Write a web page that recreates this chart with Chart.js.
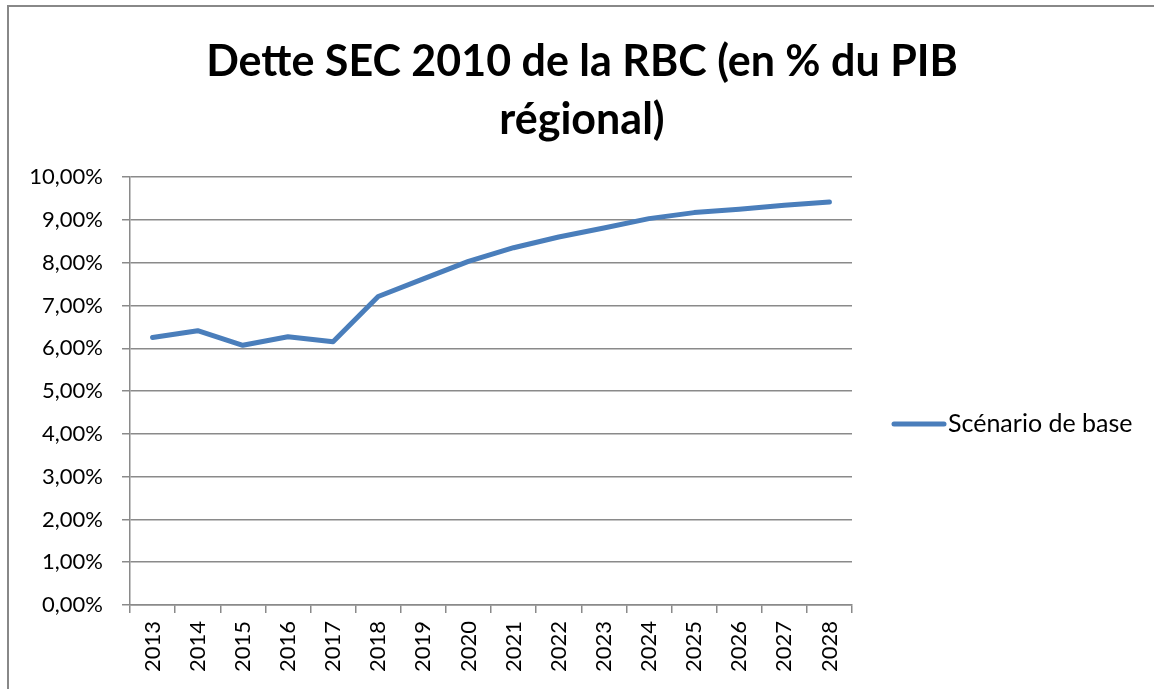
<!DOCTYPE html>
<html>
<head>
<meta charset="utf-8">
<script src="https://cdn.jsdelivr.net/npm/chart.js@4/dist/chart.umd.min.js"></script>
<style>
  html, body { margin: 0; padding: 0; background: #fff; overflow: hidden; }
  #wrap { position: relative; width: 1154px; height: 689px; overflow: hidden; }
  #frame { position: absolute; left: 7px; top: 5px; width: 1200px; height: 800px; border: 2px solid #888; box-sizing: border-box; }
  canvas { position: absolute; left: 0; top: 0; }
</style>
</head>
<body>
<div id="wrap">
  <div id="frame"></div>
  <canvas id="c" width="1154" height="689"></canvas>
</div>
<script>
const titleLines = ["Dette SEC 2010 de la RBC (en % du PIB", "régional)"];
const years = ["2013","2014","2015","2016","2017","2018","2019","2020","2021","2022","2023","2024","2025","2026","2027","2028"];
const seriesName = "Scénario de base";
const debtPct = [6.25, 6.41, 6.07, 6.27, 6.15, 7.21, 7.62, 8.03, 8.35, 8.60, 8.81, 9.03, 9.17, 9.25, 9.34, 9.42];
const yMin = 0, yMax = 10, yStep = 1;

const lineColor = '#4a7ebb';
const gridColor = '#8a8a8a';
const fontFamily = 'Lato, "Liberation Sans", sans-serif';

const sideLegend = {
  id: 'sideLegend',
  afterDraw(chart) {
    const ctx = chart.ctx;
    const ds = chart.data.datasets[0];
    const y = 424;
    ctx.save();
    ctx.strokeStyle = ds.borderColor;
    ctx.lineWidth = 5;
    ctx.lineCap = 'round';
    ctx.beginPath();
    ctx.moveTo(894, y);
    ctx.lineTo(944, y);
    ctx.stroke();
    ctx.fillStyle = '#000';
    ctx.font = '25px ' + fontFamily;
    ctx.textBaseline = 'middle';
    ctx.textAlign = 'left';
    ctx.fillText(ds.label, 948, y);
    ctx.restore();
  }
};

new Chart(document.getElementById('c'), {
  type: 'line',
  data: {
    labels: years,
    datasets: [{
      label: seriesName,
      data: debtPct,
      yAxisID: 'y',
      borderColor: lineColor,
      backgroundColor: lineColor,
      borderWidth: 5,
      pointRadius: 0,
      tension: 0,
      borderCapStyle: 'round',
      borderJoinStyle: 'round'
    }]
  },
  options: {
    responsive: false,
    animation: false,
    layout: { padding: { top: 0, left: 10, right: 0, bottom: 0 } },
    plugins: {
      legend: { display: false },
      tooltip: { enabled: false },
      title: {
        display: true,
        text: titleLines,
        color: '#000',
        font: { family: fontFamily, size: 43, weight: 'bold', lineHeight: 1.35 },
        padding: { top: 33.5, bottom: 27.5 }
      }
    },
    scales: {
      x: {
        type: 'category',
        offset: true,
        grid: { display: true, drawOnChartArea: false, drawTicks: true, tickLength: 8, offset: true, color: gridColor, lineWidth: 1.5 },
        border: { display: true, color: gridColor, width: 1.5 },
        ticks: {
          color: '#000',
          font: { family: fontFamily, size: 22 },
          maxRotation: 90, minRotation: 90,
          autoSkip: false,
          padding: 8
        },
        afterFit(scale) { scale.height = 84; }
      },
      y: {
        min: yMin, max: yMax,
        grid: { color: gridColor, lineWidth: 1.5, tickLength: 8, drawTicks: true },
        border: { display: true, color: gridColor, width: 1.5 },
        ticks: {
          stepSize: yStep,
          color: '#000',
          font: { family: fontFamily, size: 22 },
          padding: 19,
          callback: (v) => v.toFixed(2).replace('.', ',') + '%'
        },
        afterFit(scale) { scale.width = 120; }
      },
      legendSpace: {
        type: 'linear',
        position: 'right',
        display: true,
        min: 0, max: 1,
        grid: { display: false, drawOnChartArea: false },
        border: { display: false },
        ticks: { display: false },
        afterFit(scale) { scale.width = 302; }
      }
    }
  },
  plugins: [sideLegend]
});
</script>
</body>
</html>
